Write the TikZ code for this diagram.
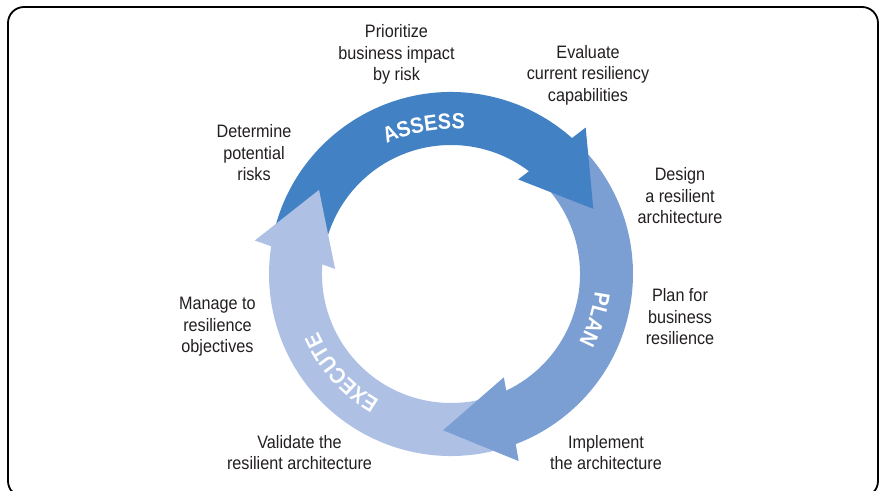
\documentclass[tikz,border=0pt]{standalone}
\usepackage{fontspec}
\setmainfont[FakeStretch=0.9]{Liberation Sans}
\usetikzlibrary{decorations.text}
\definecolor{cA}{RGB}{66,130,196}
\definecolor{cP}{RGB}{123,159,211}
\definecolor{cE}{RGB}{174,193,229}
\definecolor{txt}{RGB}{35,31,32}
\newcommand\lblfont{\fontsize{18}{21.5}\selectfont}
\newcommand\ringfont{\fontsize{22}{26}\selectfont\bfseries}
\newcommand\ringsector[3]{\fill[#1] (#2:182pt) arc[start angle=#2,end angle=#3,radius=182pt] -- (#3:129pt) arc[start angle=#3,end angle=#2,radius=129pt] -- cycle;}
\newcommand\ringhead[2]{\fill[#1] (#2:156.5pt) -- ({#2+22.8}:199pt) -- ({#2+30}:116pt) -- cycle;}
\begin{document}
\begin{tikzpicture}[x=1pt,y=1pt,
  lbl/.style={align=center,font=\lblfont,text=txt,inner sep=0pt},
  frame/.style={draw=black,line width=1.8pt,rounded corners=16pt},
  ringtext/.style={decorate,decoration={text along path,text align=center,text color=white,text={|\ringfont|#1}}}]
\useasboundingbox (0,0) rectangle (886,490);
\draw[frame] (8,483) rectangle (878,-7);
\begin{scope}[shift={(451,216)}]
  % bodies
  \ringsector{cA}{165.5}{44.6}
  \ringsector{cP}{42.6}{-72.9}
  \ringsector{cE}{-74.9}{-192.5}
  % heads
  \ringhead{cA}{24.6}
  \ringhead{cP}{-92.9}
  \ringhead{cE}{147.5}
  % ring texts
  \path[ringtext=ASSESS] (140.5:145pt) arc[start angle=140.5,end angle=60.5,radius=145pt];
  \path[ringtext=PLAN] (22.5:145pt) arc[start angle=22.5,end angle=-57.5,radius=145pt];
  \path[ringtext=EXECUTE] (262:145pt) arc[start angle=262,end angle=182,radius=145pt];
\end{scope}
\node[lbl] (prio) at (396.5,435.15) {Prioritize\\business impact\\by risk};
\node[lbl] (eval) at (588,414.85) {Evaluate\\current resiliency\\capabilities};
\node[lbl] (det) at (254,337.1) {Determine\\potential\\risks};
\node[lbl] (des) at (680,293.95) {Design\\a resilient\\architecture};
\node[lbl] (plan) at (680,173.1) {Plan for\\business\\resilience};
\node[lbl] (man) at (217.5,163.15) {Manage to\\resilience\\objectives};
\node[lbl] (val) at (299.5,37.4) {Validate the\\resilient architecture};
\node[lbl] (impl) at (606,37.4) {Implement\\the architecture};
\end{tikzpicture}
\end{document}
